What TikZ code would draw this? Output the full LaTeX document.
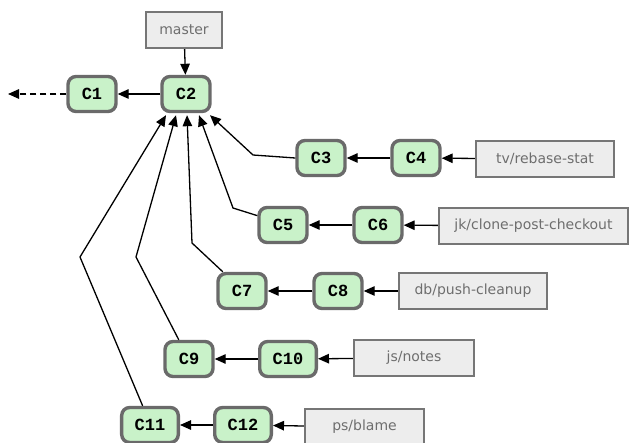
\documentclass[tikz,border=0pt]{standalone}
\usepackage{fontspec}
\usepackage{xcolor}
\newfontfamily\commitfont{Liberation Mono}
\newfontfamily\branchfont{DejaVu Sans}
\definecolor{commitfill}{HTML}{C9F2C9}
\definecolor{commitline}{HTML}{6A6A6A}
\definecolor{branchfill}{HTML}{EDEDED}
\definecolor{branchline}{HTML}{767676}
\definecolor{branchtext}{HTML}{6E6E6E}
\tikzset{
commit/.style = {draw=commitline, fill=commitfill, line width=3.4pt,
                 rounded corners=8pt, minimum width=48pt, minimum height=35pt,
                 inner xsep=13pt,
                 font=\commitfont\bfseries\fontsize{17}{19}\selectfont},
branch/.style = {draw=branchline, fill=branchfill, line width=2.4pt,
                 minimum height=36pt, text=branchtext,
                 font=\branchfont\fontsize{14}{17}\selectfont},
parent/.style = {-{Triangle[length=11pt,width=9.5pt]}, line width=1.3pt}
}
\usetikzlibrary{%
  arrows.meta,
  positioning,
  calc
}

\begin{document}
\begin{tikzpicture}[x=1pt,y=-1pt]
  \useasboundingbox (0,0) rectangle (631,443);

  \foreach \c/\x/\y in {
    C1/92/94, C2/186/94,
    C3/321/158, C4/416/158,
    C5/283/225, C6/378/225,
    C7/242/291, C8/338/291,
    C9/189/359, C10/288/359,
    C11/150/425, C12/243/425
  }{
    \node[commit] (\c) at (\x,\y) {\c};
  }

  \node[branch, minimum width=76pt]  (master) at (184,30)    {master};
  \node[branch, minimum width=138pt] (rebase) at (545,159)   {tv/rebase-stat};
  \node[branch, minimum width=189pt] (clone)  at (533.5,226) {jk/clone-post-checkout};
  \node[branch, minimum width=148pt] (push)   at (473,291)   {db/push-cleanup};
  \node[branch, minimum width=120pt] (notes)  at (414,358)   {js/notes};
  \node[branch, minimum width=119pt] (blame)  at (364.5,427) {ps/blame};

  % bends of the side branches
  \coordinate (b3)  at (253,155);
  \coordinate (b5)  at (233,208);
  \coordinate (b7)  at (192,243);
  \coordinate (b9)  at (136,257);
  \coordinate (b11) at (80,257);
  \coordinate (tail) at (8,94);

  \draw[parent] (master) -- (C2);
  \draw[parent, dash pattern=on 6pt off 4pt] (C1) -- (tail);
  \foreach \a/\b in {C2/C1, C4/C3, C6/C5, C8/C7, C10/C9, C12/C11,
                     rebase/C4, clone/C6, push/C8, notes/C10, blame/C12}{
    \draw[parent] (\a) -- (\b);
  }

  \draw[parent] (C3.west)  -- (b3)  -- ([xshift=24pt,yshift=-2pt]C2.south);
  \draw[parent] (C5.160)   -- (b5)  -- ([xshift=13pt,yshift=-2pt]C2.south);
  \draw[parent] (C7.135)   -- (b7)  -- ([xshift=1pt,yshift=-2pt]C2.south);
  \draw[parent] (C9.118)   -- (b9)  -- ([xshift=-10pt,yshift=-2pt]C2.south);
  \draw[parent] (C11.111)  -- (b11) -- ([xshift=-20pt,yshift=-2pt]C2.south);
\end{tikzpicture}
\end{document}
